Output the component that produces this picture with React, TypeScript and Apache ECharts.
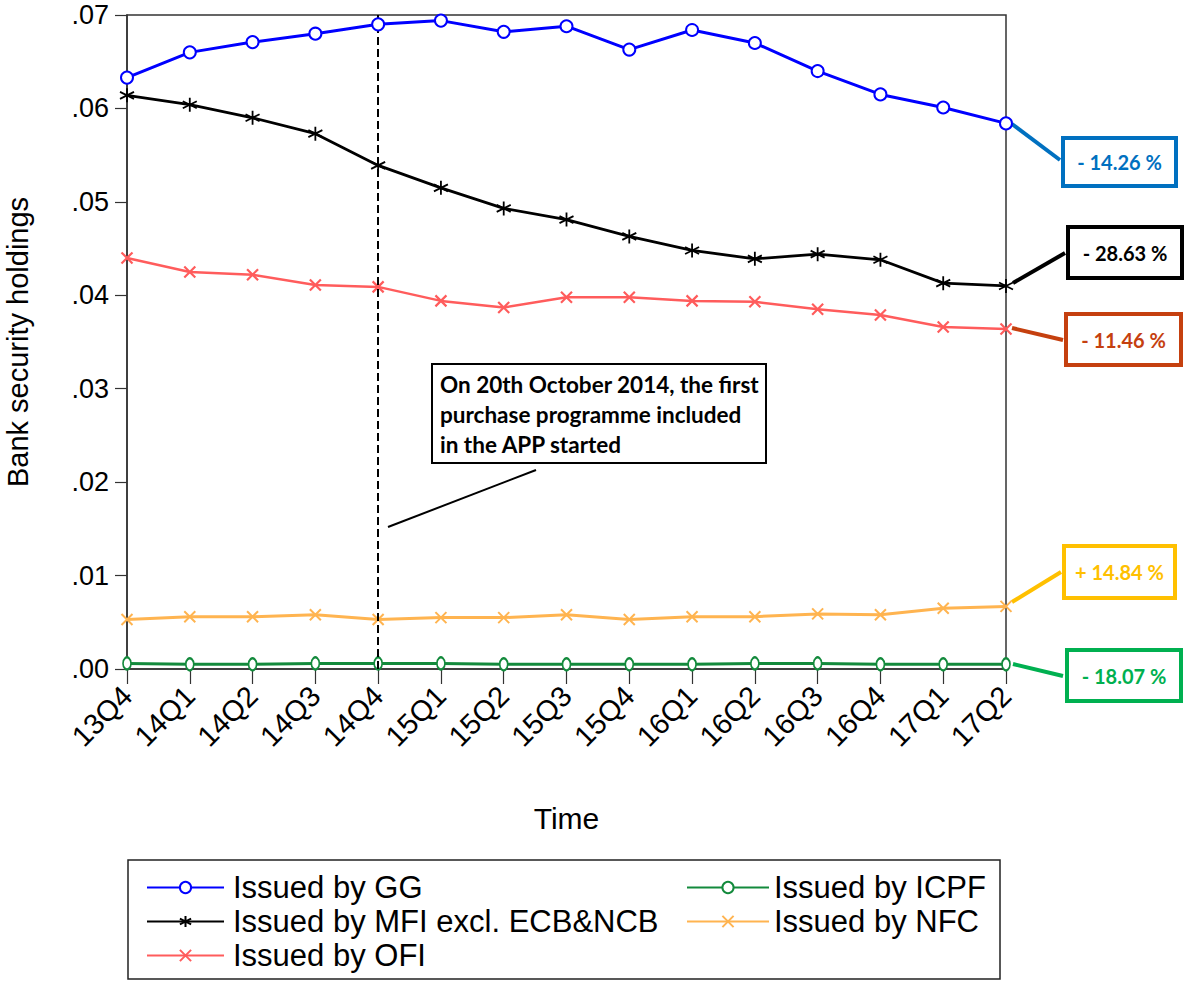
import React, { useEffect, useRef } from "react";
import * as echarts from "echarts";

const categories = ["13Q4","14Q1","14Q2","14Q3","14Q4","15Q1","15Q2","15Q3","15Q4","16Q1","16Q2","16Q3","16Q4","17Q1","17Q2"];
const ggValues = [0.0633,0.0660,0.0671,0.0680,0.0690,0.0694,0.0682,0.0688,0.0663,0.0684,0.0670,0.0640,0.0615,0.0601,0.0584];
const mfiValues = [0.0614,0.0604,0.0590,0.0573,0.0539,0.0515,0.0493,0.0481,0.0463,0.0448,0.0439,0.0444,0.0438,0.0413,0.0410];
const ofiValues = [0.0440,0.0425,0.0422,0.0411,0.0409,0.0394,0.0387,0.0398,0.0398,0.0394,0.0393,0.0385,0.0379,0.0366,0.0364];
const icpfValues = [0.0006,0.0005,0.0005,0.0006,0.0006,0.0006,0.0005,0.0005,0.0005,0.0005,0.0006,0.0006,0.0005,0.0005,0.0005];
const nfcValues = [0.0053,0.0056,0.0056,0.0058,0.0053,0.0055,0.0055,0.0058,0.0053,0.0056,0.0056,0.0059,0.0058,0.0065,0.0067];
const seriesNames = ["Issued by GG","Issued by MFI excl. ECB&NCB","Issued by OFI","Issued by ICPF","Issued by NFC"];
const eventCategory = "14Q4";
const annotationLines = ["On 20th October 2014, the first","purchase programme included","in the APP started"];
const changeLabels = ["- 14.26 %","- 28.63 %","- 11.46 %","+ 14.84 %","- 18.07 %"];

const ASTERISK = "path://M0,-10L0,10M-8.66,-5L8.66,5M-8.66,5L8.66,-5";
const CROSS = "path://M-10,-10L10,10M-10,10L10,-10";

export default function App() {
  const ref = useRef<HTMLDivElement>(null);
  useEffect(() => {
    if (!ref.current) return;
    const chart = echarts.init(ref.current, null, { renderer: "svg" });
    const font = "Liberation Sans, Arial, sans-serif";
    const bold = "Lato, Open Sans, sans-serif";
    const boxes = [
      { x: 1063, y: 138, w: 113, h: 48, color: "#0070C0", text: changeLabels[0], l: [1012, 124, 1060, 160] },
      { x: 1068, y: 227, w: 114, h: 51, color: "#000000", text: changeLabels[1], l: [1013, 283, 1065, 253] },
      { x: 1066, y: 314, w: 115, h: 51, color: "#C5400F", text: changeLabels[2], l: [1012, 328, 1063, 340] },
      { x: 1064, y: 546, w: 111, h: 52, color: "#FFC000", text: changeLabels[3], l: [1012, 602, 1061, 572] },
      { x: 1067, y: 650, w: 114, h: 51, color: "#00B050", text: changeLabels[4], l: [1013, 664, 1063, 676] },
    ];
    const graphics: any[] = [];
    boxes.forEach((b) => {
      graphics.push({ type: "line", shape: { x1: b.l[0], y1: b.l[1], x2: b.l[2], y2: b.l[3] }, style: { stroke: b.color, lineWidth: 4 } });
      graphics.push({ type: "rect", shape: { x: b.x, y: b.y, width: b.w, height: b.h }, style: { fill: "#fff", stroke: b.color, lineWidth: 4 } });
      graphics.push({ type: "text", x: b.x + b.w / 2, y: b.y + b.h / 2, style: { text: b.text, fill: b.color, font: `bold 20px ${bold}`, align: "center", verticalAlign: "middle" } });
    });
    graphics.push({ type: "line", shape: { x1: 388, y1: 527, x2: 536, y2: 470 }, style: { stroke: "#000", lineWidth: 2 } });
    graphics.push({ type: "rect", shape: { x: 432, y: 364, width: 334, height: 99 }, style: { fill: "#fff", stroke: "#000", lineWidth: 2 } });
    graphics.push({ type: "text", x: 440, y: 369, style: { text: annotationLines.join("\n"), fill: "#000", font: `bold 22.5px ${bold}`, lineHeight: 30 } });
    graphics.push({ type: "rect", shape: { x: 128, y: 860, width: 872, height: 119 }, style: { fill: "none", stroke: "#222", lineWidth: 1.5 }, z: -1 });

    chart.setOption({
      animation: false,
      backgroundColor: "#fff",
      grid: { left: 127, top: 15, right: 178, bottom: 313, show: true, borderColor: "#333", borderWidth: 1.5, backgroundColor: "transparent", containLabel: false, outerBoundsMode: "none" },
      xAxis: {
        type: "category",
        data: categories,
        boundaryGap: false,
        name: "Time",
        nameLocation: "middle",
        nameGap: 134,
        nameTextStyle: { fontFamily: font, fontSize: 30, color: "#000" },
        axisLine: { lineStyle: { color: "#333", width: 1.5 } },
        axisTick: { length: 15, lineStyle: { color: "#333", width: 1.2 } },
        axisLabel: { rotate: 45, fontFamily: font, fontSize: 29, color: "#000", margin: 22 },
        splitLine: { show: false },
      },
      yAxis: {
        type: "value",
        min: 0,
        max: 0.07,
        interval: 0.01,
        name: "Bank security holdings",
        nameLocation: "middle",
        nameGap: 95,
        nameTextStyle: { fontFamily: font, fontSize: 29, color: "#000" },
        axisLine: { show: true, lineStyle: { color: "#333", width: 1.5 } },
        axisTick: { show: true, length: 12, lineStyle: { color: "#333", width: 1.2 } },
        axisLabel: { fontFamily: font, fontSize: 27, color: "#000", margin: 18, formatter: (v: number) => v.toFixed(2).replace(/^0/, "") },
        splitLine: { show: false },
      },
      legend: [
        {
          data: [seriesNames[0], seriesNames[1], seriesNames[2]],
          orient: "vertical",
          left: 141,
          top: 867,
          itemWidth: 77,
          itemHeight: 14,
          itemGap: 3,
          textStyle: { fontFamily: font, fontSize: 31, color: "#000", padding: [0, 0, 0, 4] },
        },
        {
          data: [seriesNames[3], seriesNames[4]],
          orient: "vertical",
          left: 681,
          top: 867,
          itemWidth: 82,
          itemHeight: 14,
          itemGap: 3,
          textStyle: { fontFamily: font, fontSize: 31, color: "#000", padding: [0, 0, 0, 0] },
        },
      ],
      series: [
        {
          name: seriesNames[4], type: "line", data: nfcValues, symbol: CROSS, symbolSize: 11,
          lineStyle: { color: "#FFB450", width: 3 }, itemStyle: { color: "#FFB450", borderColor: "#FFB450", borderWidth: 2 }, z: 2,
        },
        {
          name: seriesNames[3], type: "line", data: icpfValues, symbol: "emptyCircle", symbolSize: [8, 12],
          lineStyle: { color: "#138A3C", width: 3 }, itemStyle: { color: "#138A3C", borderColor: "#138A3C", borderWidth: 1.5 }, z: 2,
        },
        {
          name: seriesNames[2], type: "line", data: ofiValues, symbol: CROSS, symbolSize: 11,
          lineStyle: { color: "#FF5C5C", width: 2.5 }, itemStyle: { color: "#FF5C5C", borderColor: "#FF5C5C", borderWidth: 2.2 }, z: 3,
        },
        {
          name: seriesNames[1], type: "line", data: mfiValues, symbol: ASTERISK, symbolSize: 14,
          lineStyle: { color: "#000", width: 2.8 }, itemStyle: { color: "#000", borderColor: "#000", borderWidth: 1.8 }, z: 4,
          markLine: {
            silent: true, symbol: "none", label: { show: false },
            lineStyle: { color: "#000", type: "dashed", width: 2 },
            data: [{ xAxis: eventCategory }],
          },
        },
        {
          name: seriesNames[0], type: "line", data: ggValues, symbol: "emptyCircle", symbolSize: 12,
          lineStyle: { color: "#0000FF", width: 3 }, itemStyle: { color: "#0000FF", borderColor: "#0000FF", borderWidth: 1.5 }, z: 5,
        },
      ],
      graphic: graphics,
    });
    return () => chart.dispose();
  }, []);
  return <div ref={ref} style={{ width: 1184, height: 982, position: "absolute", left: 0, top: 0 }} />;
}
